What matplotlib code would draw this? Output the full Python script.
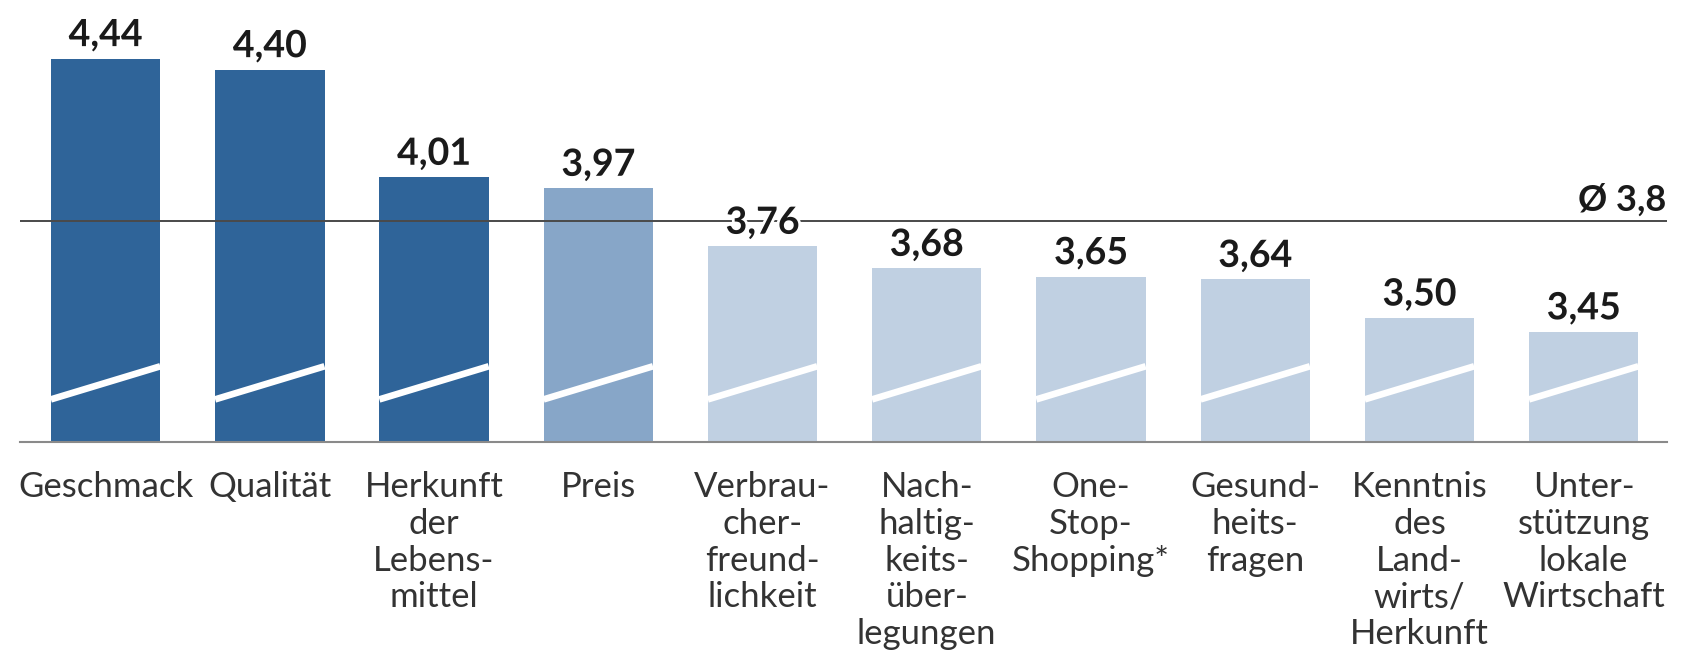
import matplotlib.pyplot as plt
import matplotlib.patheffects as pe
import numpy as np

# Data
categories = [
    "Geschmack", "Qualität", "Herkunft\nder\nLebens-\nmittel", "Preis",
    "Verbrau-\ncher-\nfreund-\nlichkeit", "Nach-\nhaltig-\nkeits-\nüber-\nlegungen",
    "One-\nStop-\nShopping*", "Gesund-\nheits-\nfragen",
    "Kenntnis\ndes\nLand-\nwirts/\nHerkunft", "Unter-\nstützung\nlokale\nWirtschaft",
]
values = [4.44, 4.40, 4.01, 3.97, 3.76, 3.68, 3.65, 3.64, 3.50, 3.45]
avg_label = "Ø 3,8"

# Style
tier_colors = ["#2f6499", "#87a6c8", "#c0d0e2"]
bar_tier = [0, 0, 0, 1, 2, 2, 2, 2, 2, 2]
plt.rcParams['font.family'] = ['Lato', 'DejaVu Sans']

fig = plt.figure(figsize=(16.98, 6.72), dpi=100)
ax = fig.add_axes([0.0115, 0.342, 0.9705, 0.657])

x = np.arange(len(values))
width = 0.666
y_min = 3.05
bars = ax.bar(x, np.array(values) - y_min, width, bottom=y_min,
              color=[tier_colors[t] for t in bar_tier], zorder=2)

# axis break marks (white diagonal through each bar)
for xi in x:
    ax.plot([xi - width / 2, xi + width / 2], [3.205, 3.325], color="white",
            lw=4.8, solid_capstyle="butt", zorder=3)

# average line
avg = np.mean(values)
ax.axhline(avg, color="#4a4a4a", lw=1.4, zorder=4)
ax.text(9.5, avg + 0.04, avg_label, ha="right", va="baseline",
        fontsize=26, fontweight="bold", color="#1a1a1a", zorder=6)

for xi, v in zip(x, values):
    ax.annotate(f"{v:.2f}".replace(".", ","), (xi, v), xytext=(0, 9),
                textcoords="offset points", ha="center", va="baseline",
                fontsize=27, fontweight="bold", color="#1a1a1a", zorder=6,
                path_effects=[pe.withStroke(linewidth=4, foreground="white")])

ax.set_xlim(-0.524, 9.51)
ax.set_ylim(y_min, 4.65)
ax.set_xticks(x)
ax.set_xticklabels(categories, fontsize=25, color="#333333", linespacing=1.18)
ax.tick_params(axis="x", length=0, pad=21)
ax.set_yticks([])
for s in ["top", "left", "right"]:
    ax.spines[s].set_visible(False)
ax.spines["bottom"].set_color("#8a8a8a")
ax.spines["bottom"].set_linewidth(1.5)

fig.savefig("out.png", dpi=100)
